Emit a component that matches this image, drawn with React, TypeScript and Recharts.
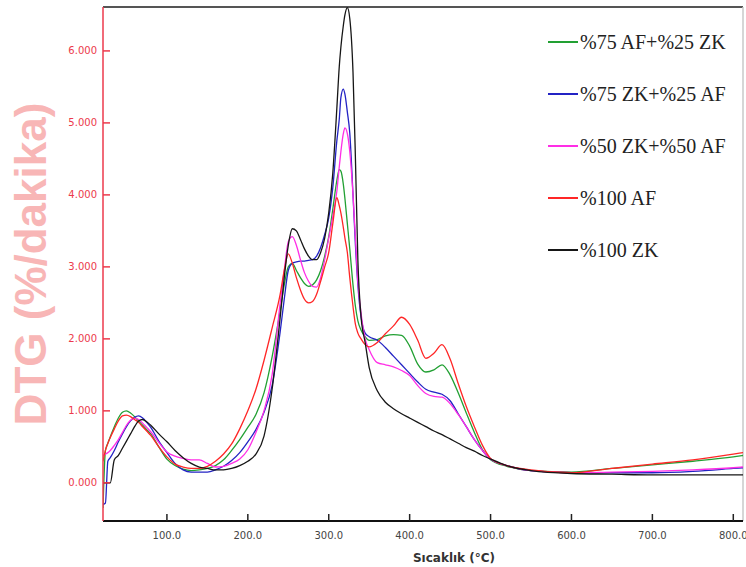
import React from "react";
import {
  LineChart,
  Line,
  XAxis,
  YAxis,
  Legend,
  ReferenceLine,
} from "recharts";

// temperature grid (°C) shared by all curves
const TEMPS = [
  21, 24, 27, 30, 35, 40, 45, 50, 55, 60, 65, 70, 75, 80, 90, 100, 110, 120,
  130, 140, 150, 160, 170, 180, 190, 200, 210, 220, 230, 240, 245, 250, 255,
  260, 265, 270, 275, 280, 285, 290, 295, 300, 305, 310, 313, 315, 318, 320,
  323, 326, 330, 333, 336, 340, 345, 350, 360, 370, 380, 390, 400, 410, 420,
  430, 440, 450, 460, 470, 480, 490, 500, 520, 550, 600, 650, 700, 750, 800,
  812,
];

// %75 AF+%25 ZK
const GREEN = [
  -0.35, 0.45, 0.55, 0.64, 0.78, 0.9, 0.98, 1.0, 0.97, 0.92, 0.86, 0.8, 0.74,
  0.68, 0.5, 0.33, 0.24, 0.19, 0.17, 0.18, 0.2, 0.24, 0.32, 0.45, 0.6, 0.77,
  0.95, 1.25, 1.75, 2.4, 2.75, 3.0, 3.05, 2.95, 2.85, 2.77, 2.73, 2.75, 2.82,
  2.95, 3.15, 3.42, 3.8, 4.2, 4.35, 4.33, 4.15, 3.95, 3.6, 3.25, 2.75, 2.45,
  2.25, 2.12, 2.03, 1.98, 1.99, 2.04, 2.06, 2.05, 1.9, 1.65, 1.54, 1.57, 1.64,
  1.5, 1.25, 0.97, 0.7, 0.46, 0.32, 0.23, 0.17, 0.15, 0.2, 0.25, 0.3, 0.36,
  0.38,
];

// %75 ZK+%25 AF
const BLUE = [
  -0.3, -0.28, 0.3, 0.35, 0.45, 0.57, 0.68, 0.78, 0.86, 0.91, 0.93, 0.9, 0.84,
  0.77, 0.58, 0.42, 0.27, 0.18, 0.15, 0.15, 0.15, 0.18, 0.23, 0.31, 0.42, 0.57,
  0.74, 0.98, 1.35, 2.1, 2.55, 2.95, 3.05, 3.07, 3.08, 3.08, 3.09, 3.1, 3.15,
  3.27, 3.45, 3.68, 4.1, 4.75, 5.05, 5.35, 5.47, 5.4, 5.15, 4.86, 4.0, 3.3,
  2.75, 2.3, 2.08, 2.03, 1.98, 1.88, 1.76, 1.64, 1.52, 1.4, 1.3, 1.26, 1.23,
  1.14, 0.96, 0.78, 0.6, 0.45, 0.33, 0.24, 0.17, 0.14, 0.14, 0.14, 0.16, 0.2,
  0.21,
];

// %50 ZK+%50 AF
const MAGENTA = [
  0.38, 0.4, 0.42, 0.45, 0.52, 0.6, 0.7, 0.8, 0.87, 0.9, 0.88, 0.83, 0.77,
  0.71, 0.56, 0.43, 0.37, 0.34, 0.32, 0.32, 0.27, 0.22, 0.23, 0.27, 0.33, 0.46,
  0.7, 1.0, 1.5, 2.5, 2.95, 3.35, 3.42, 3.3, 3.1, 2.92, 2.8, 2.73, 2.72, 2.85,
  3.1, 3.4, 3.7, 4.05, 4.39, 4.6, 4.85, 4.93, 4.85, 4.6, 4.0, 3.4, 2.8, 2.35,
  2.0, 1.85, 1.67, 1.64, 1.61, 1.56, 1.49, 1.35, 1.24, 1.2, 1.19, 1.1, 0.95,
  0.78, 0.6, 0.45, 0.33, 0.24, 0.17, 0.14, 0.15, 0.16, 0.18, 0.21, 0.22,
];

// %100 AF
const RED = [
  0.3, 0.45, 0.55, 0.63, 0.75, 0.86, 0.93, 0.94, 0.92, 0.88, 0.84, 0.78, 0.72,
  0.66, 0.5, 0.36, 0.26, 0.22, 0.2, 0.2, 0.23, 0.3, 0.4, 0.54, 0.75, 1.0, 1.3,
  1.7, 2.15, 2.62, 2.95, 3.18, 3.05, 2.85, 2.68, 2.55, 2.5, 2.52, 2.62, 2.8,
  3.0, 3.2, 3.6, 3.96, 3.85, 3.75, 3.55, 3.4, 3.2, 2.85, 2.45, 2.2, 2.08, 2.0,
  1.92, 1.89, 1.95, 2.07, 2.18, 2.3, 2.2, 1.98, 1.73, 1.8, 1.92, 1.72, 1.38,
  1.06, 0.78, 0.52, 0.34, 0.24, 0.18, 0.14, 0.2, 0.26, 0.32, 0.4, 0.42,
];

// %100 ZK
const BLACK = [
  0.0, 0.0, 0.0, 0.0, 0.32, 0.38, 0.48, 0.58, 0.68, 0.78, 0.86, 0.88, 0.85,
  0.8, 0.68, 0.57, 0.45, 0.35, 0.27, 0.22, 0.2, 0.18, 0.18, 0.2, 0.24, 0.3,
  0.4, 0.65, 1.3, 2.3, 2.85, 3.3, 3.53, 3.5, 3.38, 3.25, 3.15, 3.1, 3.1, 3.2,
  3.4, 3.75, 4.3, 5.2, 5.78, 6.05, 6.35, 6.5, 6.6, 6.45, 5.7, 4.5, 3.1, 2.3,
  1.95, 1.6, 1.28, 1.12, 1.03, 0.96, 0.9, 0.84, 0.78, 0.72, 0.67, 0.61, 0.55,
  0.49, 0.44, 0.38, 0.33, 0.24, 0.17, 0.13, 0.12, 0.11, 0.11, 0.11, 0.11,
];

const X_TICKS = [100, 200, 300, 400, 500, 600, 700, 800];
const Y_TICKS = [0, 1, 2, 3, 4, 5, 6];
const X_DOMAIN: [number, number] = [21, 812];
const Y_DOMAIN: [number, number] = [-0.53, 6.61];

const rows = TEMPS.map((t, i) => ({
  t,
  green: GREEN[i],
  blue: BLUE[i],
  magenta: MAGENTA[i],
  red: RED[i],
  black: BLACK[i],
}));

const series = [
  { key: "green", name: "%75 AF+%25 ZK", color: "#22a033" },
  { key: "blue", name: "%75 ZK+%25 AF", color: "#2323c4" },
  { key: "magenta", name: "%50 ZK+%50 AF", color: "#ff2ee6" },
  { key: "red", name: "%100 AF", color: "#ff2626" },
  { key: "black", name: "%100 ZK", color: "#161616" },
];

const AXIS_RED = "#ec3a4c";

function YTick({ x, y, payload }: any) {
  return (
    <g>
      <line x1={x} x2={x + 7} y1={y} y2={y} stroke={AXIS_RED} strokeWidth={1.5} />
      <text
        x={x - 6}
        y={y}
        textAnchor="end"
        dominantBaseline="central"
        fontFamily="DejaVu Sans"
        fontSize={10}
        fill={AXIS_RED}
      >
        {payload.value.toFixed(3)}
      </text>
    </g>
  );
}

function XTick({ x, y, payload }: any) {
  return (
    <g>
      <line x1={x} x2={x} y1={y - 7} y2={y} stroke="#222" strokeWidth={1.5} />
      <text
        x={x}
        y={y + 18}
        textAnchor="middle"
        fontFamily="DejaVu Sans"
        fontSize={10}
        fill="#444"
      >
        {payload.value.toFixed(1)}
      </text>
    </g>
  );
}

function YLabel() {
  return (
    <text
      x={30}
      y={264}
      transform="rotate(-90 30 264)"
      textAnchor="middle"
      dominantBaseline="central"
      fontFamily="Liberation Sans"
      fontWeight="bold"
      fontSize={44}
      fill="#f8b6b6"
    >
      DTG (%/dakika)
    </text>
  );
}

function XLabel() {
  return (
    <text
      x={454}
      y={562}
      textAnchor="middle"
      fontFamily="DejaVu Sans"
      fontWeight="bold"
      fontSize={12}
      fill="#333"
    >
      Sıcaklık (°C)
    </text>
  );
}

const order = (v: string) => series.findIndex((s) => s.name === v);

function LegendBox({ payload }: any) {
  const items = [...(payload || [])].sort(
    (a: any, b: any) => order(a.value) - order(b.value)
  );
  return (
    <div style={{ display: "flex", flexDirection: "column" }}>
      {items.map((p: any) => (
        <div
          key={p.value}
          style={{ height: 52, display: "flex", alignItems: "center" }}
        >
          <span
            style={{
              width: 30,
              height: 0,
              borderTop: `2.5px solid ${p.color}`,
              marginRight: 2,
            }}
          />
          <span
            style={{
              fontFamily: '"Liberation Serif", serif',
              fontSize: 20,
              color: "#222",
              whiteSpace: "nowrap",
            }}
          >
            {p.value}
          </span>
        </div>
      ))}
    </div>
  );
}

export default function App() {
  return (
    <div
      style={{
        position: "absolute",
        left: 0,
        top: 0,
        width: 746,
        height: 567,
        background: "#fff",
      }}
    >
      <LineChart
        width={746}
        height={567}
        data={rows}
        margin={{ top: 7, right: 3, bottom: 0, left: 0 }}
      >
        <XAxis
          dataKey="t"
          type="number"
          domain={X_DOMAIN}
          ticks={X_TICKS}
          allowDataOverflow
          height={46}
          axisLine={{ stroke: "#111", strokeWidth: 2 }}
          tickLine={false}
          tickSize={0}
          tickMargin={0}
          tick={<XTick />}
          label={{ content: <XLabel /> }}
        />
        <YAxis
          type="number"
          domain={Y_DOMAIN}
          ticks={Y_TICKS}
          allowDataOverflow
          width={103}
          axisLine={{ stroke: AXIS_RED, strokeWidth: 1.5 }}
          tickLine={false}
          tickSize={0}
          tickMargin={0}
          tick={<YTick />}
          label={{ content: <YLabel /> }}
        />
        <ReferenceLine y={Y_DOMAIN[1]} stroke="#555" strokeWidth={2} />
        <ReferenceLine x={X_DOMAIN[1]} stroke="#c8c8c8" strokeWidth={1.5} />
        <Legend
          layout="vertical"
          align="center"
          verticalAlign="middle"
          content={<LegendBox />}
          wrapperStyle={{ left: 548, top: 16, width: 195 }}
        />
        {series.map((s) => (
          <Line
            key={s.key}
            dataKey={s.key}
            name={s.name}
            stroke={s.color}
            strokeWidth={1.3}
            type="monotone"
            dot={false}
            isAnimationActive={false}
          />
        ))}
      </LineChart>
    </div>
  );
}
